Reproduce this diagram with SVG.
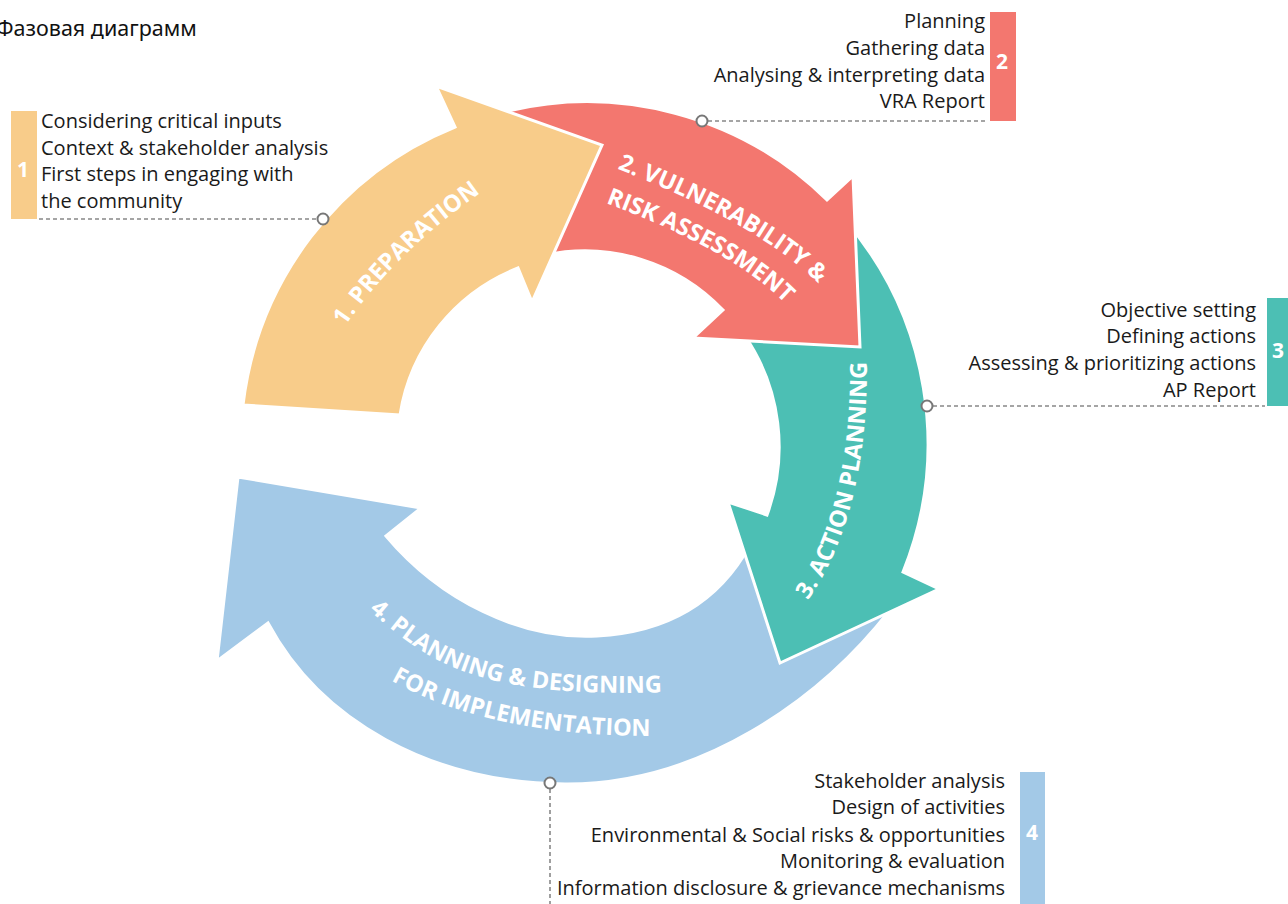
<svg xmlns="http://www.w3.org/2000/svg" width="1288" height="904" viewBox="0 0 1288 904">
<style>
.arrow{stroke:#fff;stroke-width:3;stroke-linejoin:miter}
.c1{fill:#F8CC8A}.c2{fill:#F3776F}.c3{fill:#4CBFB4}.c4{fill:#A3C9E7}
.lbl{font-family:"Open Sans","Liberation Sans",sans-serif;font-weight:700;font-size:23.5px;fill:#fff}
.txt{font-family:"Open Sans","Liberation Sans",sans-serif;font-size:20px;fill:#1a1a1a}
.num{font-family:"Open Sans","Liberation Sans",sans-serif;font-weight:700;font-size:21px;fill:#fff;text-anchor:middle}
.lead{stroke:#888;stroke-width:1.6;stroke-dasharray:4 3;fill:none}
.dot{fill:#fff;stroke:#777;stroke-width:2}
.title{font-family:"Noto Sans","Roboto","DejaVu Sans",sans-serif;font-size:21.5px;fill:#111}
</style>
<defs>
<path id="p1" d="M 348,322 Q 396,253 476,196"/>
<path id="p2a" d="M 615,168 Q 758,223 820,285"/>
<path id="p2b" d="M 606,203 Q 732,250 785,303"/>
<path id="p3" d="M 808,600 C 850,540 867,460 867,362"/>
<path id="p4a" d="M 366,608 C 420,652 460,700 666,692"/>
<path id="p4b" d="M 390,680 C 440,708 520,736 652,736"/>
</defs>
<rect width="1288" height="904" fill="#fff"/>
<text class="title" x="-4" y="36">Фазовая диаграмм</text>

<g id="phase4">
<path class="arrow c4" d="M 890,610 C 820,700 700,785 565,784 C 430,783 320,720 268,623 L 217,661 L 238,477 L 421,508 L 386,536 C 440,600 520,640 597,636 C 670,632 720,600 750,545 Z"/>
<text class="lbl"><textPath href="#p4a" startOffset="50%" text-anchor="middle">4. PLANNING &amp; DESIGNING</textPath></text>
<text class="lbl"><textPath href="#p4b" startOffset="50%" text-anchor="middle">FOR IMPLEMENTATION</textPath></text>
</g>
<g id="phase3">
<path class="arrow c3" d="M 845,220 A 343 343 0 0 1 903,572 L 939,589 L 780,663 L 728,502 L 767,515 A 197 197 0 0 0 745,336 Z"/>
<text class="lbl"><textPath href="#p3" startOffset="50%" text-anchor="middle">3. ACTION PLANNING</textPath></text>
</g>
<g id="phase2">
<path class="arrow c2" d="M 500,113 A 342 342 0 0 1 827,200 L 853,176 L 860,347 L 693,338 L 723,310 A 191 191 0 0 0 545,255 Z"/>
<text class="lbl"><textPath href="#p2a" startOffset="50%" text-anchor="middle">2. VULNERABILITY &amp;</textPath></text>
<text class="lbl"><textPath href="#p2b" startOffset="50%" text-anchor="middle">RISK ASSESSMENT</textPath></text>
</g>
<g id="phase1">
<path class="arrow c1" d="M 243,405 A 343 343 0 0 1 455,127 L 436,86 L 602,145 L 532,302 L 518,268 A 189 189 0 0 0 400,415 Z"/>
<text class="lbl"><textPath href="#p1" startOffset="50%" text-anchor="middle">1. PREPARATION</textPath></text>
</g>

<g id="info1">
<rect class="c1" x="11" y="111" width="26" height="108"/>
<text class="num" x="23" y="177">1</text>
<text class="txt" x="41" y="128">Considering critical inputs</text>
<text class="txt" x="41" y="154.5">Context &amp; stakeholder analysis</text>
<text class="txt" x="41" y="181">First steps in engaging with</text>
<text class="txt" x="41" y="207.5">the community</text>
</g>
<g id="info2">
<rect class="c2" x="990" y="12" width="26" height="109"/>
<text class="num" x="1002" y="69">2</text>
<g text-anchor="end">
<text class="txt" x="985" y="28">Planning</text>
<text class="txt" x="985" y="54.5">Gathering data</text>
<text class="txt" x="985" y="81.5">Analysing &amp; interpreting data</text>
<text class="txt" x="985" y="108">VRA Report</text>
</g>
</g>
<g id="info3">
<rect class="c3" x="1267" y="298" width="21" height="108"/>
<text class="num" x="1278" y="358">3</text>
<g text-anchor="end">
<text class="txt" x="1256" y="316.5">Objective setting</text>
<text class="txt" x="1256" y="343">Defining actions</text>
<text class="txt" x="1256" y="370">Assessing &amp; prioritizing actions</text>
<text class="txt" x="1256" y="396.5">AP Report</text>
</g>
</g>
<g id="info4">
<rect class="c4" x="1020" y="772" width="25" height="132"/>
<text class="num" x="1032" y="840">4</text>
<g text-anchor="end">
<text class="txt" x="1005" y="787.5">Stakeholder analysis</text>
<text class="txt" x="1005" y="814">Design of activities</text>
<text class="txt" x="1005" y="841.5">Environmental &amp; Social risks &amp; opportunities</text>
<text class="txt" x="1005" y="868">Monitoring &amp; evaluation</text>
<text class="txt" x="1005" y="895">Information disclosure &amp; grievance mechanisms</text>
</g>
</g>

<g id="connectors">
<line class="lead" x1="39" y1="219" x2="318" y2="219"/>
<circle class="dot" cx="323" cy="219" r="5.5"/>
<line class="lead" x1="708" y1="121" x2="988" y2="121"/>
<circle class="dot" cx="702" cy="121" r="5.5"/>
<line class="lead" x1="933" y1="406" x2="1265" y2="406"/>
<circle class="dot" cx="927" cy="406" r="5.5"/>
<line class="lead" x1="550" y1="789" x2="550" y2="904"/>
<circle class="dot" cx="550" cy="783" r="5.5"/>
</g>
</svg>
